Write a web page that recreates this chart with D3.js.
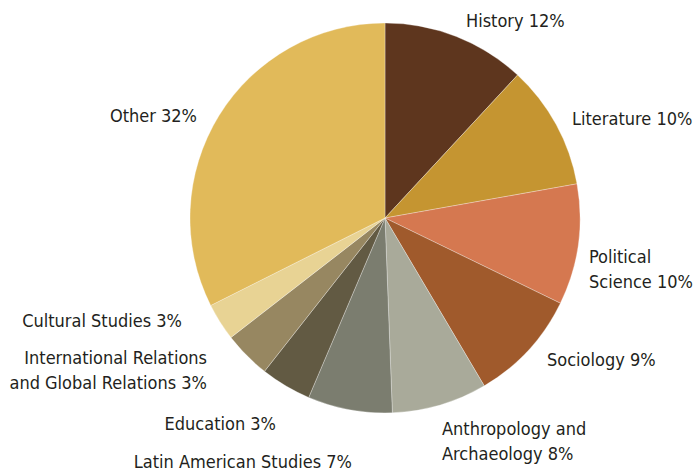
<!DOCTYPE html>
<html>
<head>
<meta charset="utf-8">
<script src="https://cdn.jsdelivr.net/npm/d3@7"></script>
<style>
  body { margin: 0; background: #fff; }
  text { font-family: "Liberation Sans Narrow", "DejaVu Sans Condensed", "Roboto", sans-serif; font-size: 18px; fill: #231f20; }
</style>
</head>
<body>
<script>
// chart data
const categories = ["History", "Literature", "Political Science", "Sociology",
  "Anthropology and Archaeology", "Latin American Studies", "Education",
  "International Relations and Global Relations", "Cultural Studies", "Other"];
// printed percentages
const shares = [12, 10, 10, 9, 8, 7, 3, 3, 3, 32];
const sliceValues = [11.9, 10.3, 10.0, 9.3, 7.9, 7.0, 4.2, 3.9, 3.1, 32.4];
const colors = ["#5e361e", "#c59531", "#d57850", "#a05a2c", "#a9aa9a",
  "#7b7d6f", "#625a43", "#978761", "#e8d394", "#e1ba5a"];

// label lines (text broken as in the original)
const labelLines = [
  ["History"],
  ["Literature"],
  ["Political", "Science"],
  ["Sociology"],
  ["Anthropology and", "Archaeology"],
  ["Latin American Studies"],
  ["Education"],
  ["International Relations", "and Global Relations"],
  ["Cultural Studies"],
  ["Other"]
];
// label placement: x, first baseline, anchor
const labelPos = [
  [466, 27, "start"], [572, 125, "start"], [589, 263, "start"],
  [547, 366, "start"], [442, 435, "start"], [352, 468, "end"],
  [276, 430, "end"], [207, 364, "end"], [182, 327, "end"], [197, 122, "end"]
];

const width = 698, height = 475;
const cx = 385, cy = 218, radius = 195;

const svg = d3.select("body").append("svg")
  .attr("width", width)
  .attr("height", height);

const pie = d3.pie().sort(null).value(d => d);
const arc = d3.arc().innerRadius(0).outerRadius(radius);

const g = svg.append("g").attr("transform", `translate(${cx},${cy})`);

g.selectAll("path")
  .data(pie(sliceValues))
  .enter()
  .append("path")
  .attr("d", arc)
  .attr("fill", (d, i) => colors[i])
  .attr("stroke", "#fff")
  .attr("stroke-opacity", 0.5)
  .attr("stroke-width", 0.6);

const labels = svg.selectAll("text.label")
  .data(categories)
  .enter()
  .append("text")
  .attr("class", "label")
  .attr("x", (d, i) => labelPos[i][0])
  .attr("y", (d, i) => labelPos[i][1])
  .attr("text-anchor", (d, i) => labelPos[i][2]);

labels.each(function(d, i) {
  const t = d3.select(this);
  const lines = labelLines[i];
  lines.forEach((line, j) => {
    const last = j === lines.length - 1;
    t.append("tspan")
      .attr("x", labelPos[i][0])
      .attr("dy", j === 0 ? 0 : 25)
      .text(last ? line + " " + shares[i] + "%" : line);
  });
});
</script>
</body>
</html>
